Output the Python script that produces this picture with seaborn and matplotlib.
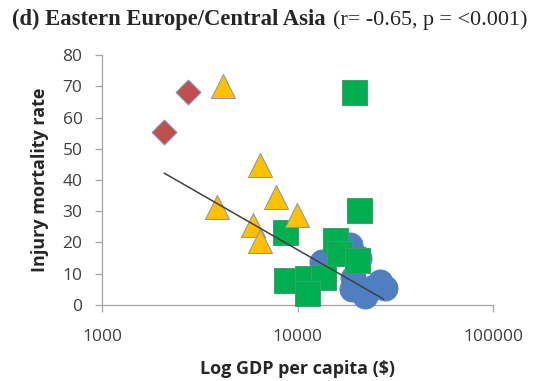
import numpy as np
import pandas as pd
import matplotlib
matplotlib.use("Agg")
import matplotlib.pyplot as plt
import seaborn as sns

# GDP per capita ($) and injury mortality rate, by country group
red_gdp = [2080, 2760]
red_rate = [55.5, 68.2]

yellow_gdp = [4140, 6430, 7770, 3870, 9970, 5900, 6430]
yellow_rate = [70.0, 44.8, 34.5, 31.4, 28.9, 25.5, 20.4]

green_gdp = [19450, 20700, 8630, 15500, 16300, 20100, 8710, 11140, 13550, 11140]
green_rate = [68.2, 30.4, 23.5, 20.8, 16.6, 14.4, 8.0, 8.6, 9.1, 3.7]

blue_gdp = [18500, 20600, 13300, 19200, 19000, 22100, 24000, 26400, 28000]
blue_rate = [19.1, 15.1, 13.8, 8.6, 5.0, 2.8, 5.5, 7.5, 5.3]

# regression line endpoints (rate vs log GDP)
trend_gdp = [2080, 27500]
trend_rate = [42.2, 1.9]

x_ticks = [1000, 10000, 100000]
y_ticks = [0, 10, 20, 30, 40, 50, 60, 70, 80]

sns.set_style("white")
plt.rcParams["font.family"] = ["Open Sans", "DejaVu Sans"]

fig = plt.figure(figsize=(5.38, 3.81), dpi=100)
ax = fig.add_axes([0.1896, 0.1995, 0.7268, 0.6561])

groups = [
    (blue_gdp, blue_rate, "o", "#4F7FC1", "#4F7FC1", 324, 1),
    (green_gdp, green_rate, "s", "#00B050", "#3F9F6F", 324, 2),
    (yellow_gdp, yellow_rate, "^", "#FFC000", "#7F93B5", 300, 3),
    (red_gdp, red_rate, "D", "#C0504D", "#7F86B5", 159, 4),
]
for gx, gy, mk, fc, ec, s, z in groups:
    df = pd.DataFrame({"gdp": gx, "rate": gy})
    sns.scatterplot(data=df, x="gdp", y="rate", marker=mk, color=fc,
                    edgecolor=ec, linewidth=0.7, s=s, ax=ax,
                    zorder=z, clip_on=False, legend=False)

sns.lineplot(x=trend_gdp, y=trend_rate, color="#404040", linewidth=1.1,
             ax=ax, zorder=5)

ax.set_xscale("log")
ax.set_xlim(1000, 100000)
ax.set_ylim(0, 80)
ax.set_xticks(x_ticks)
ax.set_xticklabels([str(t) for t in x_ticks])
ax.xaxis.set_minor_locator(matplotlib.ticker.NullLocator())
ax.set_yticks(y_ticks)
ax.set_yticklabels([str(t) for t in y_ticks])

for side in ("top", "right"):
    ax.spines[side].set_visible(False)
for side in ("left", "bottom"):
    ax.spines[side].set_color("#A6A6A6")
    ax.spines[side].set_linewidth(0.9)
    ax.spines[side].set_zorder(0.5)

ax.tick_params(axis="both", which="major", direction="out", length=5,
               width=0.9, color="#A6A6A6", labelsize=12.5,
               labelcolor="#404040", pad=9, left=True, bottom=True)
ax.tick_params(axis="x", pad=12)

ax.set_xlabel("Log GDP per capita ($)", fontsize=13, fontweight="bold",
              color="#262626", labelpad=11)
ax.set_ylabel("Injury mortality rate", fontsize=13, fontweight="bold",
              color="#262626", labelpad=10)

fig.text(0.022, 0.934, "(d) Eastern Europe/Central Asia", fontsize=16.3,
         fontweight="bold", family="Liberation Serif", va="baseline", ha="left")
fig.text(0.619, 0.934, "(r= -0.65, p = <0.001)", fontsize=15.9,
         family="Liberation Serif", va="baseline", ha="left")

fig.savefig("out.png", dpi=100)
